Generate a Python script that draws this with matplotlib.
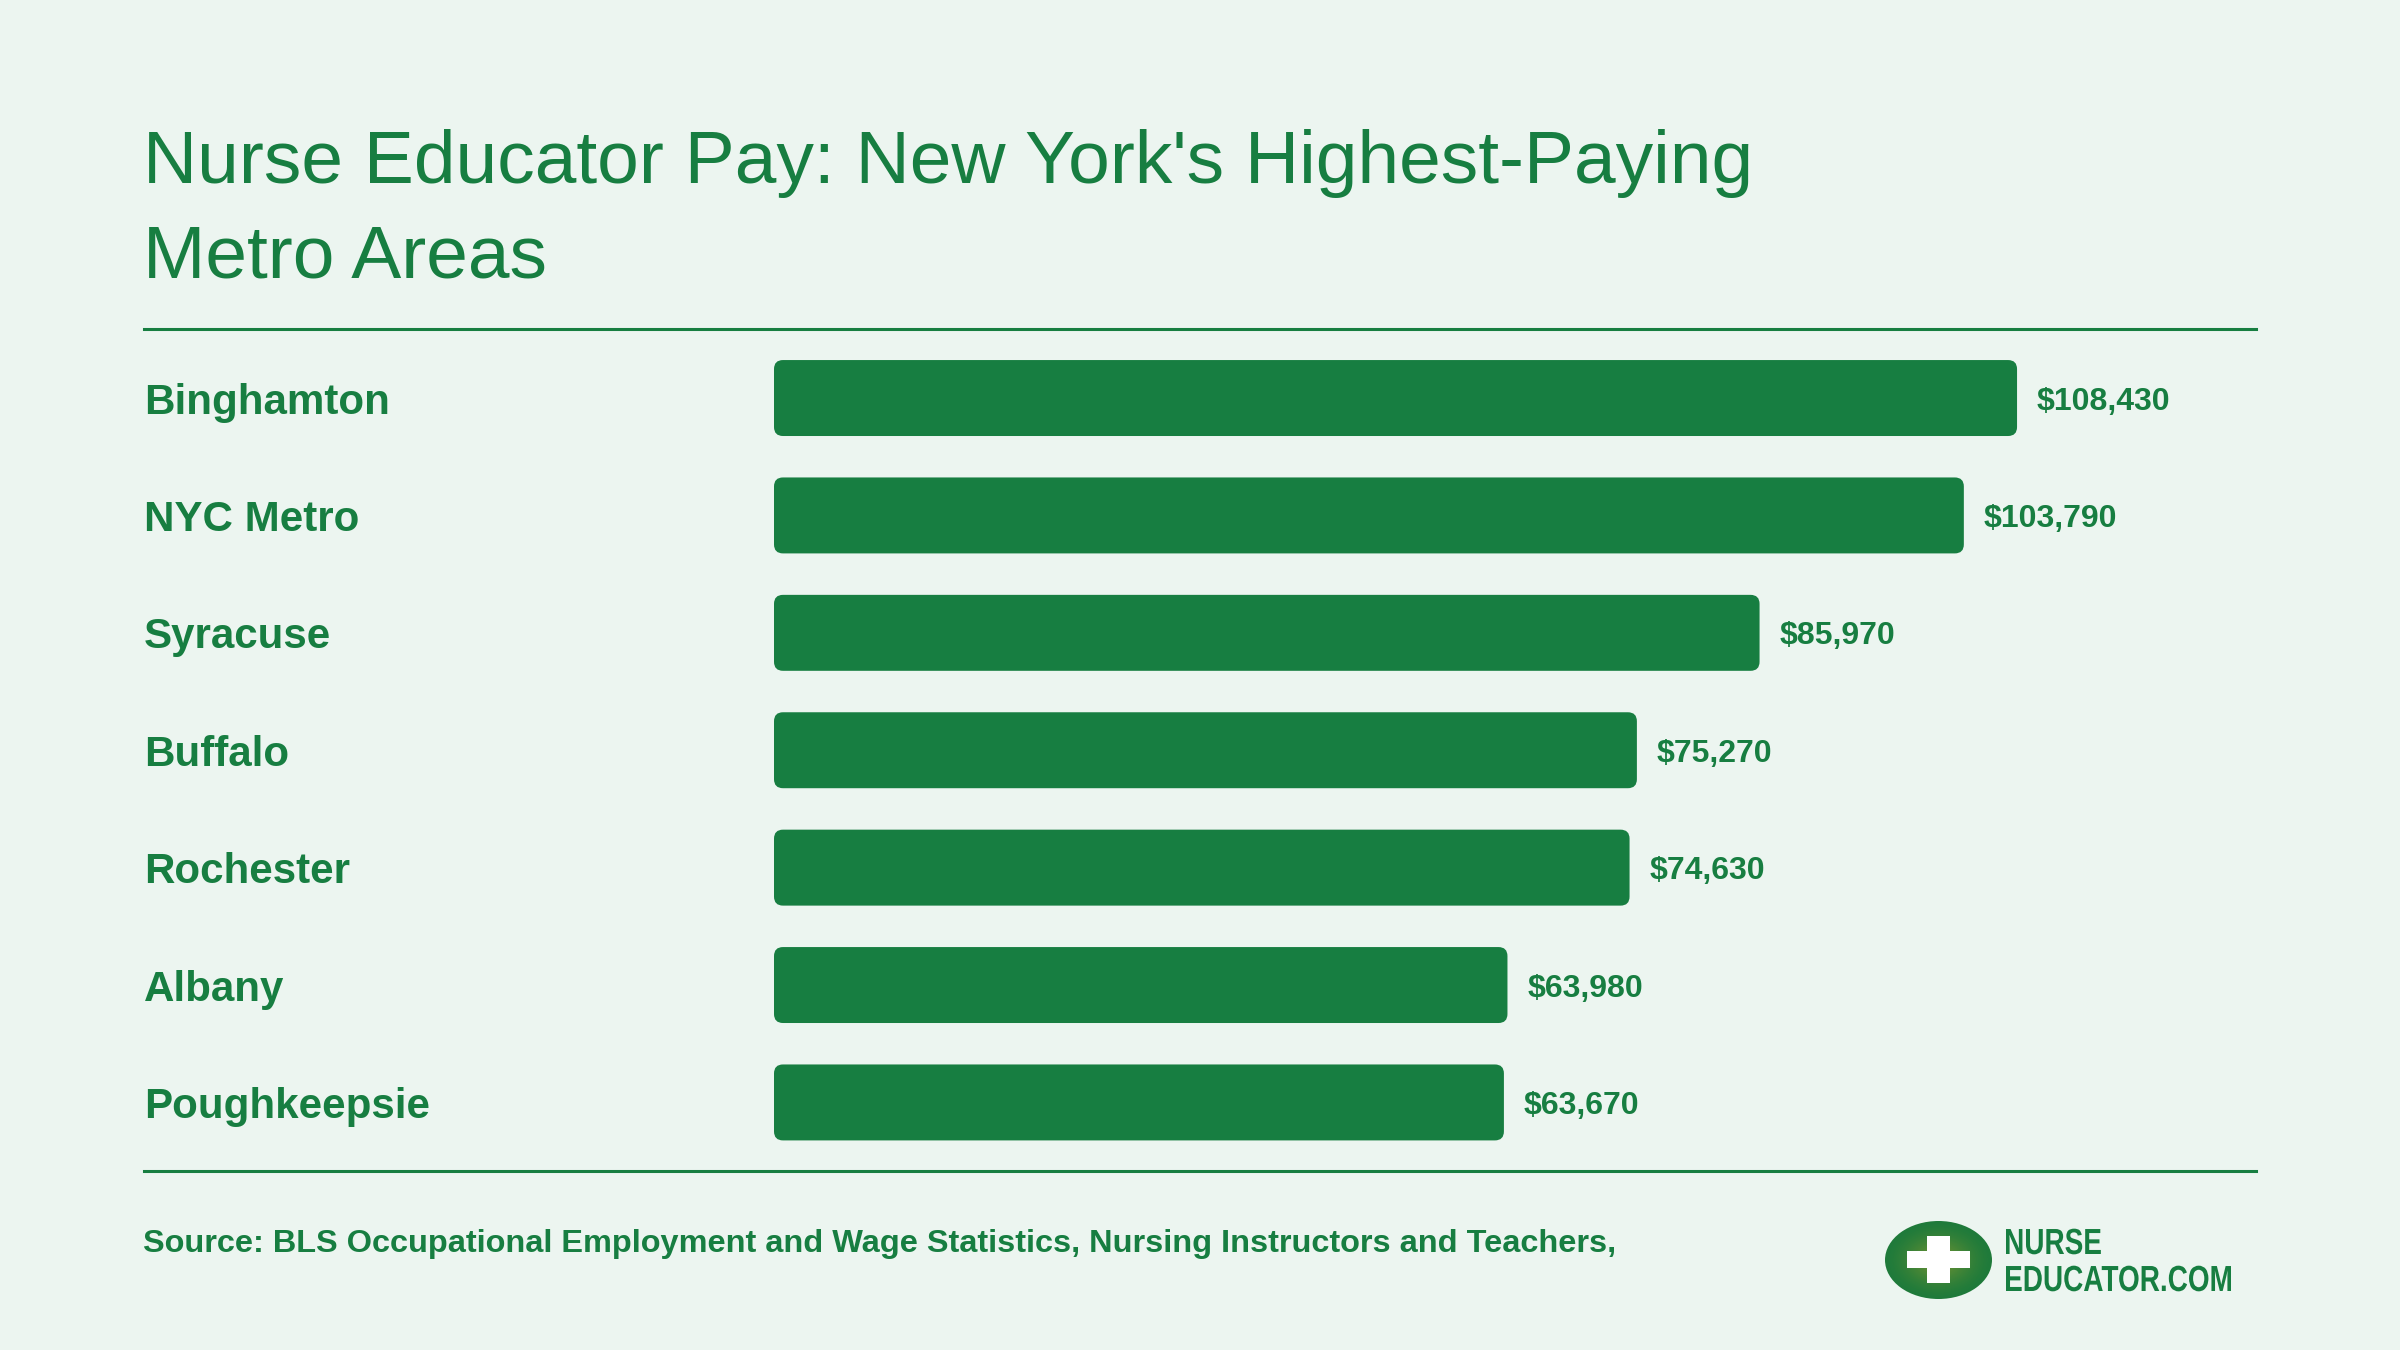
import matplotlib
matplotlib.use("Agg")
from matplotlib import pyplot as plt
from matplotlib.patches import FancyBboxPatch, Ellipse, Rectangle, PathPatch
from matplotlib.lines import Line2D
from matplotlib.textpath import TextPath
from matplotlib.font_manager import FontProperties
from matplotlib.transforms import blended_transform_factory, Affine2D
import numpy as np

plt.rcParams["font.family"] = ["Liberation Sans", "DejaVu Sans"]

BG = "#ECF5F0"
GREEN = "#177E41"

metros = ["Binghamton", "NYC Metro", "Syracuse", "Buffalo", "Rochester", "Albany", "Poughkeepsie"]
salaries = [108430, 103790, 85970, 75270, 74630, 63980, 63670]

W, H = 2400, 1350
fig = plt.figure(figsize=(24, 13.5), dpi=100, facecolor=BG)

# axes box in pixels: left 774, right 2256, top 329, bottom 1171
ax = fig.add_axes([774 / W, 1 - 1171 / H, (2256 - 774) / W, (1171 - 329) / H])
ax.set_facecolor(BG)
ax.axis("off")

y = np.arange(len(metros))
bars = ax.barh(y, salaries, height=0.647, color=GREEN)
ax.set_xlim(0, (2256 - 774) / 0.011464)
ax.set_ylim(len(metros) - 1 + 0.584, -0.588)

# swap plain bars for rounded ones
fig.canvas.draw()
px_x = ax.transData.transform((1, 0))[0] - ax.transData.transform((0, 0))[0]
px_y = abs(ax.transData.transform((0, 1))[1] - ax.transData.transform((0, 0))[1])
r = 9 / px_x
for b in bars:
    b.set_visible(False)
    ax.add_patch(FancyBboxPatch(
        (b.get_x(), b.get_y()), b.get_width(), b.get_height(),
        boxstyle=f"round,pad=0,rounding_size={r}",
        mutation_aspect=(9 / px_y) / r,
        facecolor=GREEN, edgecolor="none",
    ))

for yi, v in zip(y, salaries):
    ax.text(v + 20 / px_x, yi, f"${v:,}", va="center_baseline", ha="left",
            fontsize=23, fontweight="bold", color=GREEN)

trans = blended_transform_factory(fig.transFigure, ax.transData)
for yi, name in zip(y, metros):
    ax.text(144 / W, yi, name, transform=trans, va="center_baseline", ha="left",
            fontsize=30.3, fontweight="bold", color=GREEN)

title_lines = ["Nurse Educator Pay: New York's Highest-Paying", "Metro Areas"]
for line, base in zip(title_lines, (183, 277)):
    fig.text(143 / W, 1 - base / H, line, fontsize=54, color=GREEN, va="baseline", ha="left")

for ypx in (329, 1171):
    fig.add_artist(Line2D([144 / W, 2256 / W], [1 - ypx / H] * 2, color=GREEN, lw=2.2))

fig.text(143 / W, 1 - 1252 / H,
         "Source: BLS Occupational Employment and Wage Statistics, Nursing Instructors and Teachers,",
         fontsize=23.4, fontweight="bold", color=GREEN, va="baseline", ha="left")

# logo
lax = fig.add_axes([1885 / W, 1 - 1299 / H, 107 / W, 78 / H])
lax.set_xlim(-1, 1)
lax.set_ylim(-1, 1)
lax.axis("off")
for k in np.linspace(1, 0.05, 40):
    t = 1 - k
    c = (0x1f + (0x80 - 0x1f) * t ** 1.5, 0x7a + (0x98 - 0x7a) * t ** 1.5, 0x3a + (0x30 - 0x3a) * t ** 1.5)
    lax.add_patch(Ellipse((0, 0), 2 * k, 2 * k, color=np.array(c) / 255, lw=0))
lax.add_patch(Rectangle((-0.58, -0.2), 1.16, 0.42, color="white", lw=0))
lax.add_patch(Rectangle((-0.22, -0.58), 0.44, 1.2, color="white", lw=0))

# condensed logo lettering: squeeze a bold text path sideways
prop = FontProperties(family="Liberation Sans", weight="bold")
paths = [TextPath((0, 0), s, size=36.3, prop=prop) for s in ("NURSE", "EDUCATOR.COM")]
ext = paths[1].get_extents()
sx = 225 / ext.width
for p, base in zip(paths, (1254, 1291)):
    x0 = p.get_extents().x0
    tr = Affine2D().translate(-x0, 0).scale(sx, 1).translate(2006, H - base)
    fig.add_artist(PathPatch(p, transform=tr, facecolor=GREEN, edgecolor="none"))

fig.savefig("out.png", dpi=100, facecolor=BG)
